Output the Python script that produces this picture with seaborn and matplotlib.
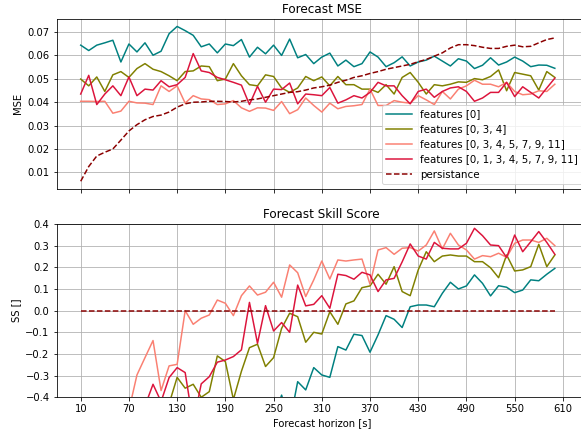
import pandas as pd
import seaborn as sns
import matplotlib.pyplot as plt

# forecast horizon [s]
horizon = list(range(10, 610, 10))

labels = ['features [0]', 'features [0, 3, 4]', 'features [0, 3, 4, 5, 7, 9, 11]',
          'features [0, 1, 3, 4, 5, 7, 9, 11]', 'persistance']
colors = ['teal', 'olive', 'salmon', 'crimson', 'darkred']

# MSE per model
mse_f0 = [0.0644, 0.0621, 0.0644, 0.0654, 0.0665, 0.0572, 0.0649, 0.0615, 0.0654, 0.0601,
          0.0618, 0.0693, 0.0724, 0.0706, 0.0686, 0.0637, 0.0649, 0.0611, 0.0649, 0.0642,
          0.0668, 0.0593, 0.0635, 0.0607, 0.0644, 0.0600, 0.0670, 0.0590, 0.0604, 0.0565,
          0.0593, 0.0610, 0.0555, 0.0580, 0.0552, 0.0565, 0.0615, 0.0593, 0.0552, 0.0569,
          0.0594, 0.0555, 0.0572, 0.0580, 0.0597, 0.0576, 0.0555, 0.0586, 0.0576, 0.0544,
          0.0558, 0.0590, 0.0559, 0.0572, 0.0593, 0.0576, 0.0552, 0.0559, 0.0558, 0.0545]
mse_f034 = [0.0499, 0.0470, 0.0508, 0.0446, 0.0517, 0.0531, 0.0506, 0.0544, 0.0565, 0.0541,
            0.0531, 0.0513, 0.0492, 0.0531, 0.0534, 0.0555, 0.0552, 0.0492, 0.0499, 0.0565,
            0.0513, 0.0475, 0.0470, 0.0517, 0.0510, 0.0461, 0.0442, 0.0461, 0.0510, 0.0492,
            0.0508, 0.0470, 0.0510, 0.0475, 0.0475, 0.0456, 0.0456, 0.0442, 0.0475, 0.0435,
            0.0506, 0.0527, 0.0485, 0.0435, 0.0475, 0.0470, 0.0477, 0.0487, 0.0485, 0.0501,
            0.0496, 0.0510, 0.0538, 0.0449, 0.0527, 0.0520, 0.0513, 0.0452, 0.0531, 0.0506]
mse_f7 = [0.0404, 0.0404, 0.0403, 0.0404, 0.0353, 0.0362, 0.0404, 0.0397, 0.0396, 0.0390,
          0.0470, 0.0446, 0.0470, 0.0396, 0.0428, 0.0414, 0.0411, 0.0390, 0.0393, 0.0407,
          0.0376, 0.0361, 0.0376, 0.0375, 0.0365, 0.0403, 0.0351, 0.0368, 0.0418, 0.0386,
          0.0358, 0.0396, 0.0372, 0.0382, 0.0385, 0.0390, 0.0456, 0.0386, 0.0386, 0.0407,
          0.0400, 0.0396, 0.0428, 0.0410, 0.0390, 0.0446, 0.0414, 0.0456, 0.0470, 0.0494,
          0.0477, 0.0477, 0.0466, 0.0485, 0.0446, 0.0432, 0.0435, 0.0449, 0.0446, 0.0477]
mse_f8 = [0.0435, 0.0515, 0.0390, 0.0435, 0.0470, 0.0428, 0.0508, 0.0428, 0.0456, 0.0452,
          0.0492, 0.0466, 0.0475, 0.0506, 0.0608, 0.0534, 0.0527, 0.0506, 0.0496, 0.0485,
          0.0473, 0.0390, 0.0468, 0.0400, 0.0456, 0.0454, 0.0482, 0.0393, 0.0435, 0.0432,
          0.0428, 0.0463, 0.0396, 0.0410, 0.0428, 0.0418, 0.0442, 0.0485, 0.0470, 0.0470,
          0.0428, 0.0393, 0.0446, 0.0456, 0.0421, 0.0446, 0.0461, 0.0466, 0.0446, 0.0404,
          0.0418, 0.0442, 0.0442, 0.0485, 0.0424, 0.0466, 0.0442, 0.0418, 0.0461, 0.0503]
mse_pers = [0.0062, 0.0125, 0.0170, 0.0186, 0.0200, 0.0238, 0.0277, 0.0304, 0.0325, 0.0339,
            0.0345, 0.0358, 0.0379, 0.0393, 0.0400, 0.0401, 0.0404, 0.0404, 0.0403, 0.0401,
            0.0404, 0.0410, 0.0414, 0.0421, 0.0428, 0.0435, 0.0442, 0.0445, 0.0452, 0.0461,
            0.0466, 0.0473, 0.0485, 0.0494, 0.0506, 0.0513, 0.0523, 0.0531, 0.0541, 0.0548,
            0.0555, 0.0562, 0.0573, 0.0583, 0.0597, 0.0611, 0.0632, 0.0646, 0.0646, 0.0642,
            0.0635, 0.0630, 0.0630, 0.0639, 0.0644, 0.0637, 0.0639, 0.0654, 0.0668, 0.0675]

# skill score per model
ss_f0 = [-9.4, -4.0, -2.8, -2.5, -2.3, -1.4, -1.34, -1.02, -1.01, -0.77,
         -0.79, -0.94, -0.91, -0.80, -0.72, -0.59, -0.61, -0.51, -0.61, -0.60,
         -0.65, -0.45, -0.53, -0.44, -0.50, -0.39, -0.52, -0.328, -0.366, -0.263,
         -0.297, -0.308, -0.166, -0.182, -0.109, -0.115, -0.192, -0.112, -0.023, -0.040,
         -0.078, 0.018, 0.026, 0.026, 0.018, 0.080, 0.131, 0.100, 0.114, 0.165,
         0.126, 0.068, 0.115, 0.108, 0.083, 0.095, 0.142, 0.138, 0.168, 0.195]
ss_f034 = [-7.0, -2.8, -1.99, -1.4, -1.58, -1.23, -0.83, -0.79, -0.74, -0.60,
           -0.54, -0.43, -0.308, -0.358, -0.340, -0.400, -0.374, -0.209, -0.235, -0.41,
           -0.28, -0.171, -0.155, -0.258, -0.217, -0.082, -0.012, -0.028, -0.146, -0.100,
           -0.108, -0.005, -0.063, 0.031, 0.045, 0.106, 0.114, 0.168, 0.122, 0.203,
           0.088, 0.069, 0.188, 0.272, 0.226, 0.252, 0.257, 0.252, 0.252, 0.226,
           0.226, 0.198, 0.152, 0.257, 0.183, 0.188, 0.203, 0.306, 0.203, 0.257]
ss_f7 = [-5.5, -2.2, -1.38, -1.17, -0.77, -0.52, -0.46, -0.297, -0.217, -0.138,
         -0.369, -0.255, -0.248, 0.0, -0.063, -0.035, -0.020, 0.049, 0.034, -0.023,
         0.069, 0.114, 0.072, 0.085, 0.131, 0.062, 0.211, 0.175, 0.065, 0.142,
         0.229, 0.146, 0.234, 0.229, 0.234, 0.238, 0.122, 0.280, 0.291, 0.260,
         0.288, 0.291, 0.275, 0.303, 0.368, 0.285, 0.357, 0.303, 0.280, 0.238,
         0.254, 0.249, 0.265, 0.246, 0.311, 0.326, 0.326, 0.315, 0.334, 0.300]
ss_f8 = [-6.0, -3.1, -1.29, -1.34, -1.35, -0.80, -0.83, -0.55, -0.44, -0.340,
         -0.42, -0.309, -0.263, -0.286, -0.52, -0.338, -0.305, -0.238, -0.228, -0.212,
         -0.181, 0.038, -0.151, 0.023, -0.094, -0.055, -0.100, 0.118, 0.022, 0.029,
         0.069, 0.011, 0.168, 0.162, 0.145, 0.177, 0.165, 0.088, 0.142, 0.149,
         0.225, 0.308, 0.252, 0.238, 0.315, 0.288, 0.285, 0.285, 0.311, 0.380,
         0.346, 0.303, 0.300, 0.245, 0.349, 0.272, 0.318, 0.365, 0.315, 0.260]
ss_pers = [0.0] * 60

mse_series = [mse_f0, mse_f034, mse_f7, mse_f8, mse_pers]
ss_series = [ss_f0, ss_f034, ss_f7, ss_f8, ss_pers]

fig, (ax1, ax2) = plt.subplots(2, 1, sharex=True, figsize=(581 / 72, 433 / 72), dpi=72)

# top: MSE
for vals, lab, col in zip(mse_series, labels, colors):
    ls = '--' if lab == 'persistance' else '-'
    sns.lineplot(x=horizon, y=vals, ax=ax1, color=col, linestyle=ls, label=lab, legend=False)

# bottom: skill score
for vals, lab, col in zip(ss_series, labels, colors):
    ls = '--' if lab == 'persistance' else '-'
    sns.lineplot(x=horizon, y=vals, ax=ax2, color=col, linestyle=ls, legend=False)

ax1.set_title('Forecast MSE')
ax1.set_ylabel('MSE')
ax1.grid(True)
ax1.legend(loc='lower right', handlelength=2.5, fontsize=10.3)

ax2.set_title('Forecast Skill Score')
ax2.set_ylabel('SS []')
ax2.set_xlabel('Forecast horizon [s]')
ax2.set_ylim(-0.4, 0.4)
ax2.grid(True)

ax2.set_xticks(list(range(10, 611, 60)))
ax2.set_xlim(-20, 640)

ax1.set_position([0.0974, 0.5635, 0.9129, 0.3933])
ax2.set_position([0.0974, 0.0825, 0.9129, 0.4002])

plt.savefig('out.png', dpi=72)
